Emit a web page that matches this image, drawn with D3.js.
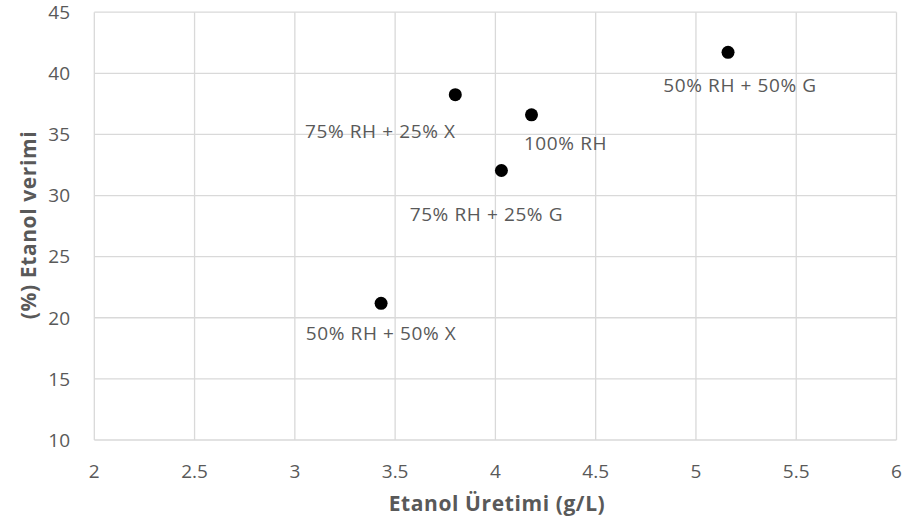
<!DOCTYPE html>
<html><head><meta charset="utf-8">
<script src="https://cdn.jsdelivr.net/npm/d3@7"></script>
<style>body{margin:0;background:#fff}svg{display:block}text{font-family:"Open Sans","Noto Sans",sans-serif}</style>
</head><body>
<script>
const labels = ["50% RH + 50% X","75% RH + 25% X","75% RH + 25% G","100% RH","50% RH + 50% G"];
const production = [3.43, 3.80, 4.03, 4.18, 5.16];
const yieldPct = [21.18, 38.25, 32.05, 36.6, 41.72];
const xTicks = [2, 2.5, 3, 3.5, 4, 4.5, 5, 5.5, 6];
const yTicks = [10, 15, 20, 25, 30, 35, 40, 45];
const labelOffsets = [[0,30],[-75,36],[-15,44],[34,28],[12,33]];
const xTitle = "Etanol Üretimi (g/L)";
const yTitle = "(%) Etanol verimi";

const W=904,H=529;
const svg=d3.select("body").append("svg").attr("width",W).attr("height",H);
const x=d3.scaleLinear().domain([2,6]).range([94.3,896.5]);
const y=d3.scaleLinear().domain([10,45]).range([440,12.2]);
const grid="#d9d9d9", tc="#595959";

svg.append("g").selectAll("line").data(yTicks).join("line")
 .attr("x1",x(2)).attr("x2",x(6)).attr("y1",d=>y(d)).attr("y2",d=>y(d))
 .attr("stroke",grid).attr("stroke-width",1.3);
svg.append("g").selectAll("line").data(xTicks).join("line")
 .attr("y1",y(10)).attr("y2",y(45)).attr("x1",d=>x(d)).attr("x2",d=>x(d))
 .attr("stroke",grid).attr("stroke-width",1.3);

svg.append("g").selectAll("text").data(yTicks).join("text")
 .attr("x",70).attr("y",d=>y(d)).attr("dy","0.36em").attr("text-anchor","end")
 .attr("fill",tc).attr("font-size",19).text(d=>d);
svg.append("g").selectAll("text").data(xTicks).join("text")
 .attr("x",d=>x(d)).attr("y",471).attr("dy","0.36em").attr("text-anchor","middle")
 .attr("fill",tc).attr("font-size",19).text(d=>d);

svg.append("text").attr("x",497).attr("y",503).attr("dy","0.36em")
 .attr("text-anchor","middle").attr("fill",tc).attr("font-size",21).attr("font-weight","bold").attr("letter-spacing",0.6).text(xTitle);
svg.append("text").attr("transform",`translate(28,225) rotate(-90)`).attr("dy","0.36em")
 .attr("text-anchor","middle").attr("fill",tc).attr("font-size",21).attr("font-weight","bold").attr("letter-spacing",0.6).text(yTitle);

const idx=d3.range(labels.length);
svg.append("g").selectAll("circle").data(idx).join("circle")
 .attr("cx",i=>x(production[i])).attr("cy",i=>y(yieldPct[i])).attr("r",6.5).attr("fill","#000");
svg.append("g").selectAll("text").data(idx).join("text")
 .attr("x",i=>x(production[i])+labelOffsets[i][0]).attr("y",i=>y(yieldPct[i])+labelOffsets[i][1])
 .attr("dy","0.36em").attr("text-anchor","middle").attr("fill",tc).attr("font-size",19).attr("letter-spacing",0.6).text(i=>labels[i]);
</script>
</body></html>
